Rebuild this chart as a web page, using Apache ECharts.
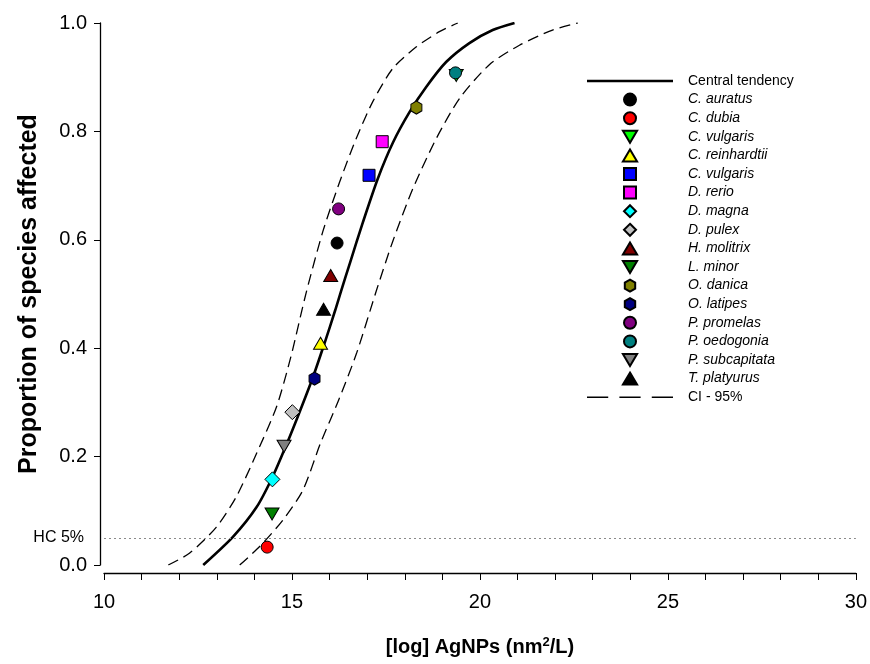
<!DOCTYPE html>
<html>
<head>
<meta charset="utf-8">
<script src="https://cdn.jsdelivr.net/npm/echarts@6/dist/echarts.min.js"></script>
<style>
  html, body { margin: 0; padding: 0; background: #fff; }
  #chart { width: 870px; height: 664px; }
</style>
</head>
<body>
<div id="chart"></div>
<script>
// Species sensitivity distribution for silver nanoparticles
const species = ['C. auratus', 'C. dubia', 'C. vulgaris', 'C. reinhardtii', 'C. vulgaris ', 'D. rerio',
  'D. magna', 'D. pulex', 'H. molitrix', 'L. minor', 'O. danica', 'O. latipes', 'P. promelas',
  'P. oedogonia', 'P. subcapitata', 'T. platyurus'];
const logConc = [16.20, 14.34, 19.37, 15.76, 17.05, 17.40, 14.48, 15.01, 16.03, 14.47, 18.31, 15.60,
  16.24, 19.35, 14.79, 15.84];
const proportion = [0.594, 0.033, 0.903, 0.409, 0.719, 0.781, 0.158, 0.282, 0.534, 0.094, 0.844, 0.344,
  0.657, 0.908, 0.219, 0.472];

// Fitted central tendency curve
const centralX = [12.64, 13.43, 14.06, 14.48, 14.83, 15.19, 15.55, 15.87, 16.15, 16.30, 16.55, 16.89,
  17.29, 17.69, 18.13, 18.57, 19.10, 19.72, 20.34, 20.92];
const centralY = [0.0, 0.052, 0.107, 0.162, 0.218, 0.280, 0.345, 0.410, 0.470, 0.504, 0.559, 0.633,
  0.714, 0.780, 0.836, 0.882, 0.928, 0.963, 0.987, 1.0];

// 95% confidence bounds
const ciLowX = [11.71, 12.28, 12.99, 13.52, 14.06, 14.59, 14.97, 15.38, 15.82, 16.27, 16.71, 17.15,
  17.68, 18.31, 18.92, 19.41];
const ciLowY = [0.0, 0.022, 0.070, 0.126, 0.206, 0.292, 0.384, 0.503, 0.615, 0.707, 0.787, 0.855,
  0.916, 0.956, 0.984, 1.0];
const ciHighX = [13.61, 14.14, 14.76, 15.29, 15.76, 16.24, 16.72, 17.24, 17.68, 18.22, 18.84, 19.46,
  20.25, 21.05, 21.93, 22.60];
const ciHighY = [0.0, 0.034, 0.083, 0.138, 0.225, 0.304, 0.391, 0.505, 0.597, 0.695, 0.787, 0.861,
  0.923, 0.959, 0.987, 1.0];

const hcLevel = 0.05;
const hcLabel = 'HC 5%';
const xTicks = { min: 10, max: 30, step: 5 };
const yTicks = { min: 0, max: 1, step: 0.2 };

// Marker outlines as paths so the legend keeps their proportions
const SHAPES = {
  circle: 'path://M1,0A1,1,0,1,1,-1,0A1,1,0,1,1,1,0Z',
  up: 'path://M6.5,0L13,11L0,11Z',
  down: 'path://M0,0L13,0L6.5,11Z',
  square: 'path://M0,0H1V1H0Z',
  diamond: 'path://M0,-1L1,0L0,1L-1,0Z',
  hexagon: 'path://M0,-1L0.866,-0.5L0.866,0.5L0,1L-0.866,0.5L-0.866,-0.5Z'
};
const SIZES = { circle: [12, 12], up: [14, 12], down: [14, 12], square: [12, 12], diamond: [15, 15], hexagon: [11, 13] };

const markerStyle = {
  'C. auratus':     { shape: 'circle',  color: '#000000' },
  'C. dubia':       { shape: 'circle',  color: '#ff0000' },
  'C. vulgaris':    { shape: 'down',    color: '#00ff00' },
  'C. reinhardtii': { shape: 'up',      color: '#ffff00' },
  'C. vulgaris ':   { shape: 'square',  color: '#0000ff' },
  'D. rerio':       { shape: 'square',  color: '#ff00ff' },
  'D. magna':       { shape: 'diamond', color: '#00ffff' },
  'D. pulex':       { shape: 'diamond', color: '#c0c0c0' },
  'H. molitrix':    { shape: 'up',      color: '#800000' },
  'L. minor':       { shape: 'down',    color: '#008000' },
  'O. danica':      { shape: 'hexagon', color: '#808000' },
  'O. latipes':     { shape: 'hexagon', color: '#000080' },
  'P. promelas':    { shape: 'circle',  color: '#800080' },
  'P. oedogonia':   { shape: 'circle',  color: '#008080' },
  'P. subcapitata': { shape: 'down',    color: '#808080' },
  'T. platyurus':   { shape: 'up',      color: '#000000' }
};

const zip = (xs, ys) => xs.map((x, i) => [x, ys[i]]);
const font = '"Liberation Sans", Arial, sans-serif';

const scatterSeries = species.map((name, i) => {
  const m = markerStyle[name];
  return {
    name: name,
    type: 'scatter',
    z: 5,
    symbol: SHAPES[m.shape],
    symbolSize: SIZES[m.shape],
    itemStyle: { color: m.color, borderColor: '#000', borderWidth: 1, opacity: 1 },
    data: [[logConc[i], proportion[i]]]
  };
});

const curveSeries = (name, xs, ys, lineStyle) => ({
  name: name,
  type: 'line',
  z: 2,
  smooth: 0.25,
  symbol: 'none',
  showSymbol: false,
  lineStyle: lineStyle,
  itemStyle: { color: '#000' },
  data: zip(xs, ys)
});

const central = curveSeries('Central tendency', centralX, centralY, { color: '#000', width: 2.6 });
central.markLine = {
  silent: true,
  symbol: 'none',
  lineStyle: { type: [2, 3], color: '#8a8a8a', width: 1 },
  label: { show: true, position: 'start', formatter: hcLabel, fontFamily: font, fontSize: 16, color: '#000', distance: 20 },
  data: [{ yAxis: hcLevel }]
};
const dash = { color: '#000', width: 1.3, type: [11, 6] };

const option = {
  animation: false,
  backgroundColor: '#fff',
  textStyle: { fontFamily: font },
  grid: { left: 104, right: 13, top: 23, bottom: 99, containLabel: false },
  xAxis: {
    type: 'value',
    min: xTicks.min, max: xTicks.max, interval: xTicks.step,
    offset: 8,
    name: '[log] AgNPs (nm{sup|2}/L)',
    nameLocation: 'middle',
    nameGap: 63,
    nameTextStyle: {
      fontFamily: font, fontSize: 20, fontWeight: 'bold', color: '#000',
      rich: {
        sup: { fontFamily: font, fontSize: 13, fontWeight: 'bold', color: '#000', verticalAlign: 'top', padding: [0, 0, 10, 0] }
      }
    },
    axisLine: { show: true, onZero: false, lineStyle: { color: '#000', width: 1.3 } },
    axisTick: { show: true, inside: false, length: 7, lineStyle: { color: '#000', width: 1 } },
    minorTick: { show: true, splitNumber: 5, length: 7, lineStyle: { color: '#000', width: 1 } },
    splitLine: { show: false },
    axisLabel: { fontFamily: font, fontSize: 20, color: '#000', margin: 19 }
  },
  yAxis: {
    type: 'value',
    min: yTicks.min, max: yTicks.max, interval: yTicks.step,
    offset: 4,
    name: 'Proportion of species affected',
    nameLocation: 'middle',
    nameGap: 58,
    nameTextStyle: { fontFamily: font, fontSize: 25, fontWeight: 'bold', color: '#000' },
    axisLine: { show: true, onZero: false, lineStyle: { color: '#000', width: 1.3 } },
    axisTick: { show: true, inside: false, length: 6, lineStyle: { color: '#000', width: 1 } },
    splitLine: { show: false },
    axisLabel: { fontFamily: font, fontSize: 20, color: '#000', margin: 13, formatter: v => v.toFixed(1) }
  },
  legend: {
    orient: 'vertical',
    left: 582,
    top: 69,
    itemWidth: 86,
    itemHeight: 12,
    itemGap: 4.6,
    selectedMode: false,
    formatter: n => n.trim(),
    textStyle: { fontFamily: font, fontSize: 14, color: '#000', fontStyle: 'italic', padding: [0, 0, 0, 10] },
    data: [
      { name: 'Central tendency', icon: 'path://M0,0H86V2.6H0Z', textStyle: { fontStyle: 'normal' } },
      ...species.map(n => ({ name: n })),
      { name: 'CI - 95%', icon: 'path://M0,0H19V1.3H0Z M29,0H48V1.3H29Z M58,0H77V1.3H58Z', textStyle: { fontStyle: 'normal' } }
    ]
  },
  series: [
    central,
    ...scatterSeries,
    curveSeries('CI - 95%', ciLowX, ciLowY, dash),
    curveSeries('CI - 95%', ciHighX, ciHighY, dash)
  ]
};

const chart = echarts.init(document.getElementById('chart'), null, { renderer: 'canvas' });
chart.setOption(option);
</script>
</body>
</html>
